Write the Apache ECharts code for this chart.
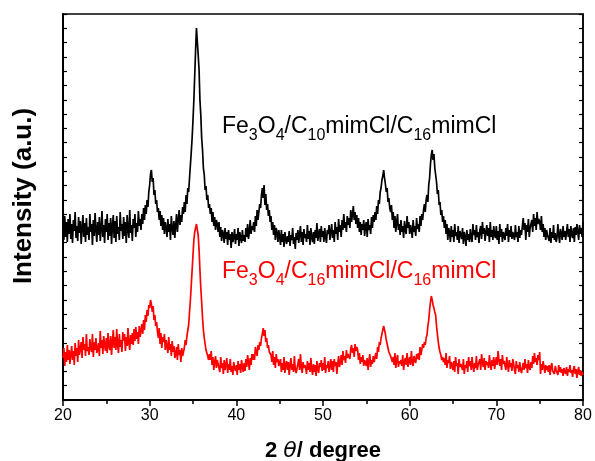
<!DOCTYPE html>
<html>
<head>
<meta charset="utf-8">
<script src="https://cdn.jsdelivr.net/npm/echarts@6/dist/echarts.min.js"></script>
<style>html,body{margin:0;padding:0;background:#fff}#c{width:595px;height:461px}</style>
</head>
<body>
<div id="c"></div>
<script>
// 2θ grid: 20.0 .. 80.0 in 0.1° steps
const thetaStart = 20, thetaStep = 0.1;
const xTicks = [20, 30, 40, 50, 60, 70, 80];

// Fe3O4/C10mimCl/C16mimCl (black, offset trace) – intensity in a.u., one row per degree
const seriesBlack = [
175,160,184,163,178,158,181,166,186,161,
176,157,180,169,188,162,174,159,183,167,
179,156,172,185,163,177,158,182,165,173,
160,186,168,176,155,180,164,187,170,158,
178,165,183,159,171,189,163,175,157,181,
168,186,160,177,164,182,156,174,185,162,
179,158,184,166,173,160,188,169,176,161,
183,164,178,157,185,170,162,190,167,175,
159,181,172,186,163,177,168,189,174,181,
170,186,176,192,180,195,186,200,193,208,
215,226,230,218,222,205,210,196,200,188,
192,180,189,174,185,170,182,166,178,172,
163,181,168,176,160,184,171,165,179,162,
174,186,168,180,190,175,185,178,193,186,
198,188,205,196,212,208,222,235,248,262,
280,300,325,350,372,358,345,330,300,285,
262,250,232,225,210,214,200,205,192,196,
186,192,178,188,174,183,170,180,176,168,
178,163,173,159,170,166,157,172,161,168,
155,170,160,166,152,168,158,163,171,156,
166,160,172,154,168,162,157,170,159,165,
158,172,163,176,161,168,180,166,174,170,
178,168,184,174,190,180,188,196,192,205,
212,202,215,195,206,190,196,184,190,178,
184,170,178,165,175,160,172,167,158,170,
163,155,170,158,166,153,168,161,156,164,
158,169,154,165,160,172,156,163,151,167,
160,170,157,166,174,158,168,155,171,162,
166,158,175,161,169,155,172,163,158,168,
156,170,162,177,159,166,171,158,174,163,
169,158,172,163,157,170,166,175,160,168,
176,162,170,158,178,166,173,160,181,168,
175,163,180,170,186,172,178,168,184,175,
182,172,190,178,186,194,180,188,176,185,
172,182,168,178,165,176,170,180,164,174,
178,163,181,170,175,166,183,172,185,178,
188,180,194,186,200,196,208,212,220,224,
230,222,216,208,212,198,202,192,188,195,
180,188,172,184,168,178,186,170,176,165,
180,168,174,162,179,170,166,184,172,178,
166,175,170,162,180,168,174,164,182,171,
176,168,184,174,186,180,190,196,188,200,
205,198,215,222,236,245,250,240,246,232,
225,218,206,210,195,198,185,190,178,184,
172,180,166,176,160,172,168,158,174,163,
170,158,176,164,168,160,174,157,169,166,
161,172,156,168,163,154,170,160,166,158,
171,163,158,176,165,170,160,175,163,168,
157,170,174,161,178,166,172,159,168,175,
164,172,158,178,163,170,160,174,165,162,
174,160,169,156,176,163,171,158,168,165,
160,172,164,176,158,170,163,174,161,168,
170,160,175,163,168,158,174,162,170,165,
166,182,170,177,160,175,168,181,163,172,
172,180,168,186,174,182,170,188,176,181,
178,170,184,168,176,163,172,160,170,165,
164,159,172,157,168,162,175,160,167,158,
162,176,165,157,171,166,160,174,163,169,
160,168,176,163,171,158,174,166,162,172,
158,173,165,176,168,160,175,166,172,163,
178
];

// Fe3O4/C16mimCl/C16mimCl (red, lower trace) – intensity in a.u., one row per degree
const seriesRed = [
42,52,34,48,38,55,40,50,36,46,
54,40,49,35,57,44,52,38,60,45,
47,58,42,63,50,56,44,66,49,53,
45,61,52,48,66,43,58,50,62,47,
51,57,44,69,52,60,46,64,55,49,
62,47,67,54,50,64,45,58,70,52,
63,50,71,55,47,66,53,60,48,68,
59,66,49,63,54,72,57,50,65,56,
67,55,71,59,73,61,68,56,74,63,
62,76,66,80,70,85,78,90,84,95,
92,100,96,88,94,80,85,74,78,68,
62,72,56,67,52,63,58,66,50,60,
58,47,63,50,56,44,59,48,54,42,
46,53,40,56,45,50,38,52,44,48,
52,60,55,64,62,75,88,100,115,130,
145,160,168,172,176,170,165,150,130,112,
98,82,70,62,56,50,48,44,40,46,
40,49,35,43,30,38,44,32,40,36,
38,28,43,32,37,26,40,30,35,42,
27,36,30,41,28,34,25,38,32,29,
35,25,39,30,36,27,40,33,28,37,
29,41,33,45,38,30,42,35,46,40,
46,40,53,48,44,55,50,58,54,62,
66,72,64,70,58,62,52,55,48,50,
45,38,49,35,43,32,46,38,41,34,
32,41,28,37,30,43,27,35,39,30,
38,25,35,42,30,36,28,44,31,27,
29,36,41,30,46,33,27,38,32,35,
32,26,39,30,37,28,42,31,25,36,
28,35,24,39,31,27,37,33,40,29,
37,30,43,27,35,32,39,28,34,41,
30,39,28,41,34,38,26,36,44,33,
38,45,35,49,40,44,37,50,42,46,
45,41,51,55,47,52,43,56,49,53,
50,40,47,36,43,38,45,34,40,37,
34,42,30,39,46,33,40,36,44,38,
39,47,41,53,48,58,55,62,66,70,
74,70,66,60,58,52,48,50,44,46,
38,43,35,47,32,40,45,33,39,36,
40,34,45,30,38,42,35,47,33,39,
43,35,49,38,34,44,40,37,46,41,
47,40,53,45,50,56,52,58,55,62,
65,74,80,90,98,104,100,95,92,88,
85,74,66,58,52,48,45,40,43,38,
42,35,47,32,40,37,44,31,38,35,
30,39,28,43,34,37,26,41,33,36,
37,30,41,26,35,32,39,28,43,34,
39,30,43,34,28,37,32,44,30,35,
36,41,30,46,37,33,42,30,39,35,
38,32,45,36,30,40,34,43,31,37,
43,35,49,40,34,41,30,45,36,39,
38,30,43,35,28,40,33,37,29,41,
36,30,26,39,32,35,28,38,31,27,
28,37,30,41,32,36,27,40,33,30,
38,32,44,36,47,38,42,35,45,40,
48,26,36,30,39,33,27,35,30,34,
28,35,25,33,37,29,31,26,34,30,
30,25,35,28,33,27,31,24,32,29,
26,33,24,31,28,35,27,30,23,31,
34,26,31,22,29,33,25,30,24,28,
25
];

const labelBlack = [['Fe','n'],['3','s'],['O','n'],['4','s'],['/C','n'],['10','s'],['mimCl/C','n'],['16','s'],['mimCl','n']];
const labelRed   = [['Fe','n'],['3','s'],['O','n'],['4','s'],['/C','n'],['16','s'],['mimCl/C','n'],['16','s'],['mimCl','n']];

function pairs(arr){ return arr.map((v,i)=>[+(thetaStart + i*thetaStep).toFixed(2), v]); }

const FONT = '"Liberation Sans", Arial, sans-serif';
const SIZE_N = 23, SIZE_S = 16;
const measureCtx = document.createElement('canvas').getContext('2d');
function labelTexts(parts, left, midY, color){
  let x = left;
  const out = [];
  parts.forEach(p => {
    const size = p[1] === 'n' ? SIZE_N : SIZE_S;
    const font = size + 'px ' + FONT;
    measureCtx.font = font;
    const w = measureCtx.measureText(p[0]).width;
    out.push({type:'text', silent:true, z:10, style:{
      x:x, y: p[1] === 'n' ? midY : midY + 9,
      text:p[0], font:font, fill:color, align:'left', verticalAlign:'middle'
    }});
    x += w;
  });
  return out;
}

const chart = echarts.init(document.getElementById('c'), null, {renderer:'canvas'});
const yMax = 386;
const yInt = yMax/27;
chart.setOption({
  animation:false,
  backgroundColor:'#fff',
  grid:{left:63, right:12, top:14, bottom:61, containLabel:false, outerBoundsMode:'none',
        show:true, borderColor:'#000', borderWidth:1.5, backgroundColor:'transparent'},
  xAxis:{
    type:'value', min:xTicks[0], max:xTicks[xTicks.length-1], interval:10,
    axisLine:{lineStyle:{color:'#000', width:2}},
    axisTick:{show:true, inside:false, length:6, lineStyle:{color:'#000', width:1.5}},
    minorTick:{show:true, splitNumber:2, length:4, lineStyle:{color:'#000', width:1.5}},
    splitLine:{show:false},
    axisLabel:{color:'#000', fontSize:16, fontFamily:FONT, margin:8},
    name:'{b|2 }{i|θ}{b|/ degree}', nameLocation:'middle', nameGap:40,
    nameTextStyle:{rich:{
      b:{fontSize:22, fontWeight:'bold', fontFamily:FONT, color:'#000'},
      i:{fontSize:22, fontStyle:'italic', fontFamily:'"DejaVu Sans", sans-serif', color:'#000'}
    }}
  },
  yAxis:[{
    type:'value', min:0, max:yMax, interval:yInt,
    axisLine:{show:true, lineStyle:{color:'#000', width:2}},
    axisTick:{show:true, inside:true, length:4, lineStyle:{color:'#000', width:1.2}},
    axisLabel:{show:false}, splitLine:{show:false}
  },{
    type:'value', min:0, max:yMax, interval:yInt, position:'right',
    axisLine:{show:true, lineStyle:{color:'#000', width:1.5}},
    axisTick:{show:true, inside:true, length:4, lineStyle:{color:'#000', width:1.2}},
    axisLabel:{show:false}, splitLine:{show:false}
  }],
  series:[
    {type:'line', data:pairs(seriesBlack), showSymbol:false, lineStyle:{color:'#000', width:1.7}, z:3},
    {type:'line', data:pairs(seriesRed), showSymbol:false, lineStyle:{color:'#ff0000', width:1.7}, z:2}
  ],
  graphic:[
    {type:'text', silent:true, x:24, y:196, rotation:Math.PI/2,
     style:{text:'Intensity (a.u.)', font:'bold 26px ' + FONT, fill:'#000', align:'center', verticalAlign:'middle'}}
  ].concat(labelTexts(labelBlack, 222, 127, '#000'), labelTexts(labelRed, 222, 272, '#ff0000'))
});
</script>
</body>
</html>
